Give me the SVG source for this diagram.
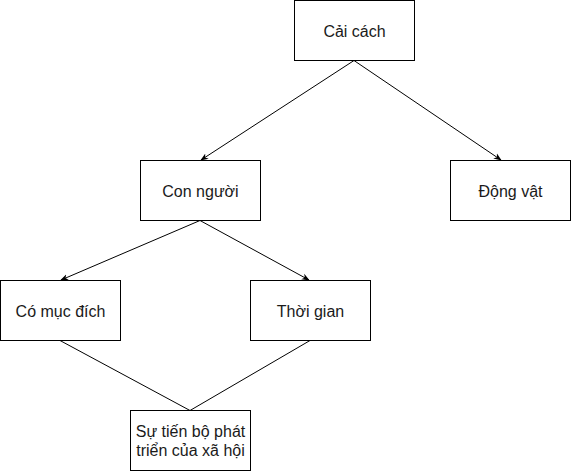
<svg xmlns="http://www.w3.org/2000/svg" width="571" height="471" viewBox="0 0 571 471">
<style>
.n rect{fill:#fff;stroke:#000;stroke-width:1}
.n text{font-family:"Liberation Sans",Arial,sans-serif;font-size:16px;fill:#1a1a1a;text-anchor:middle}
.e line{stroke:#000;stroke-width:1;fill:none}
</style>
<defs>
<marker id="a" viewBox="0 0 10 10" refX="9" refY="5" markerWidth="8" markerHeight="8" markerUnits="userSpaceOnUse" orient="auto">
<path d="M0,1 L10,5 L0,9 L3,5 Z" fill="#000"/>
</marker>
</defs>
<rect width="571" height="471" fill="#fff"/>
<g id="edges" class="e">
<line x1="354" y1="60.5" x2="201" y2="160" marker-end="url(#a)"/>
<line x1="354" y1="60.5" x2="501" y2="160" marker-end="url(#a)"/>
<line x1="200" y1="220.5" x2="61" y2="280" marker-end="url(#a)"/>
<line x1="200" y1="220.5" x2="309" y2="280" marker-end="url(#a)"/>
<line x1="60" y1="340.5" x2="190" y2="410.5"/>
<line x1="310" y1="340.5" x2="190" y2="410.5"/>
</g>
<g id="n1" class="n"><rect x="294.5" y="0.5" width="120" height="60"/><text x="354.5" y="36.5">Cải cách</text></g>
<g id="n2" class="n"><rect x="140.5" y="160.5" width="120" height="60"/><text x="200.5" y="196.5">Con người</text></g>
<g id="n3" class="n"><rect x="450.5" y="160.5" width="120" height="60"/><text x="510.5" y="196.5">Động vật</text></g>
<g id="n4" class="n"><rect x="0.5" y="280.5" width="120" height="60"/><text x="60.5" y="316.5">Có mục đích</text></g>
<g id="n5" class="n"><rect x="250.5" y="280.5" width="120" height="60"/><text x="310.5" y="316.5">Thời gian</text></g>
<g id="n6" class="n"><rect x="130.5" y="410.5" width="120" height="60"/><text x="190.5" y="437"><tspan x="190.5">Sự tiến bộ phát</tspan><tspan x="190.5" dy="18.5">triển của xã hội</tspan></text></g>
</svg>
